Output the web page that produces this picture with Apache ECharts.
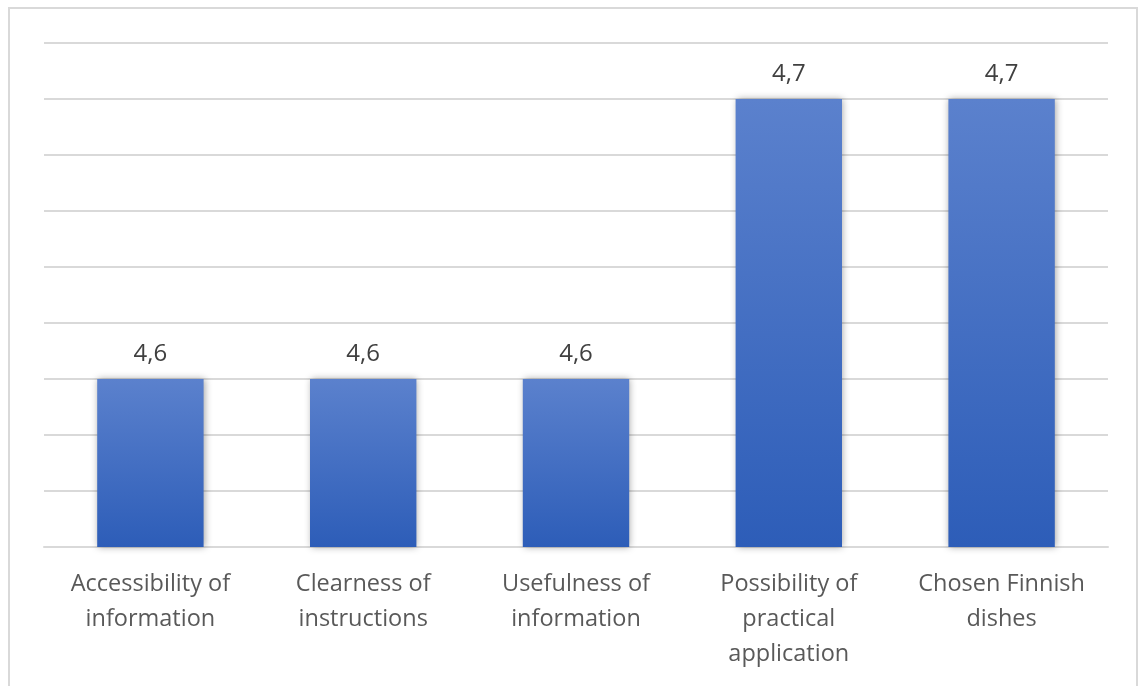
<!DOCTYPE html>
<html>
<head>
  <meta charset="UTF-8">
  <title>Ratings</title>
  <style>
    html, body { margin:0; padding:0; background:#fff; }
    #chart { position:absolute; left:0; top:0; width:1142px; height:686px; }
    .frame { position:absolute; left:8px; top:7px; width:1130px; height:700px; border:2px solid #d9d9d9; box-sizing:border-box; pointer-events:none; }
  </style>
</head>
<body>
<div id="chart"></div>
<div class="frame"></div>
<script src="https://cdn.jsdelivr.net/npm/echarts@6/dist/echarts.min.js"></script>
<script>
  var categories = [
    'Accessibility of\ninformation',
    'Clearness of\ninstructions',
    'Usefulness of\ninformation',
    'Possibility of\npractical\napplication',
    'Chosen Finnish\ndishes'
  ];
  var scores = [4.6, 4.6, 4.6, 4.7, 4.7];

  var chart = echarts.init(document.getElementById('chart'));
  chart.setOption({
    animation: false,
    textStyle: { fontFamily: 'Open Sans' },
    grid: { left: 44, right: 34, top: 43, bottom: 139 },
    xAxis: {
      type: 'category',
      data: categories,
      axisLine: { lineStyle: { color: '#d9d9d9', width: 2 } },
      axisTick: { show: false },
      axisLabel: { color: '#595959', fontSize: 23.5, lineHeight: 35, margin: 20, interval: 0 }
    },
    yAxis: {
      type: 'value',
      min: 4.54,
      max: 4.72,
      interval: 0.02,
      axisLabel: { show: false },
      axisLine: { show: false },
      axisTick: { show: false },
      splitLine: { lineStyle: { color: '#d9d9d9', width: 2 } }
    },
    series: [{
      type: 'bar',
      data: scores,
      barWidth: '50%',
      itemStyle: {
        color: new echarts.graphic.LinearGradient(0, 0, 0, 1, [
          { offset: 0, color: '#5b81cd' },
          { offset: 1, color: '#2d5db8' }
        ]),
        shadowColor: 'rgba(0,0,0,0.35)',
        shadowBlur: 7,
        shadowOffsetX: 1
      },
      label: {
        show: true,
        position: 'top',
        distance: 13,
        color: '#404040',
        fontSize: 24,
        formatter: function (p) { return p.value.toFixed(1).replace('.', ','); }
      }
    }]
  });
</script>
</body>
</html>
